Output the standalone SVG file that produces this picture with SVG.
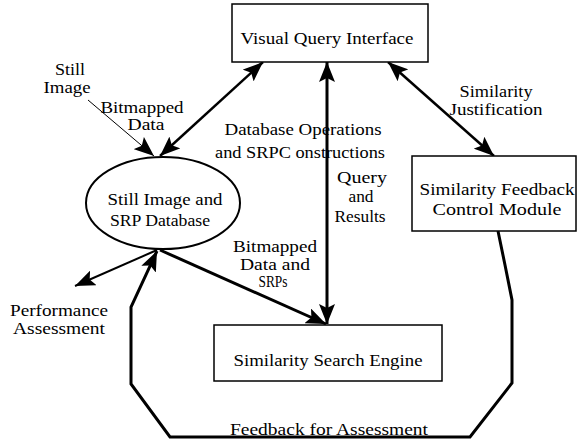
<svg xmlns="http://www.w3.org/2000/svg" width="577" height="443" viewBox="0 0 577 443">
<style>
text{font-family:'Liberation Serif','DejaVu Serif',serif;font-size:16px;fill:#000;text-anchor:middle}
.box{fill:#fff;stroke:#000;stroke-width:1.5}
.c{fill:none;stroke:#000;stroke-linejoin:miter}
</style>
<defs>
<marker id="ah" viewBox="0 0 20 16" refX="20" refY="8" markerWidth="20" markerHeight="16" markerUnits="userSpaceOnUse" orient="auto-start-reverse">
<path d="M0,0 L20,8 L0,16 L4,8 Z" fill="#000"/>
</marker>
</defs>
<rect width="577" height="443" fill="#fff"/>
<g id="connectors">
<line class="c" x1="88" y1="100" x2="154" y2="156" stroke-width="1" marker-end="url(#ah)"/>
<line class="c" x1="263" y1="62" x2="160" y2="156" stroke-width="2.5" marker-start="url(#ah)" marker-end="url(#ah)"/>
<line class="c" x1="327" y1="62" x2="327" y2="324" stroke-width="3" marker-start="url(#ah)" marker-end="url(#ah)"/>
<line class="c" x1="388" y1="62" x2="494" y2="156" stroke-width="2.5" marker-start="url(#ah)" marker-end="url(#ah)"/>
<line class="c" x1="160" y1="250" x2="326" y2="324" stroke-width="3" marker-end="url(#ah)"/>
<line class="c" x1="157" y1="250" x2="75" y2="286" stroke-width="2" marker-end="url(#ah)"/>
<polyline class="c" points="498,231 505,265 512,300 512,383 470,437 170,437 131,384 131,307 157,251" stroke-width="3" marker-end="url(#ah)"/>
</g>
<g id="visual-query-interface">
<rect class="box" x="232" y="4" width="196" height="58"/>
<text x="327" y="44" textLength="173" lengthAdjust="spacingAndGlyphs">Visual Query Interface</text>
</g>
<g id="still-image-db">
<ellipse cx="163" cy="203" rx="77" ry="46" fill="#fff" stroke="#000" stroke-width="2"/>
<text x="165" y="205" textLength="115" lengthAdjust="spacingAndGlyphs">Still Image and</text>
<text x="160" y="226" textLength="100" lengthAdjust="spacingAndGlyphs">SRP Database</text>
</g>
<g id="similarity-feedback">
<rect class="box" x="412" y="156" width="164" height="75"/>
<text x="497" y="195" textLength="155" lengthAdjust="spacingAndGlyphs">Similarity Feedback</text>
<text x="497" y="215" textLength="129" lengthAdjust="spacingAndGlyphs">Control Module</text>
</g>
<g id="similarity-search-engine">
<rect class="box" x="214" y="325" width="228" height="56"/>
<text x="328" y="366" textLength="189" lengthAdjust="spacingAndGlyphs">Similarity Search Engine</text>
</g>
<g id="labels">
<text x="70" y="75" textLength="30" lengthAdjust="spacingAndGlyphs">Still</text>
<text x="67" y="93" textLength="47" lengthAdjust="spacingAndGlyphs">Image</text>
<text x="142" y="113" textLength="83" lengthAdjust="spacingAndGlyphs">Bitmapped</text>
<text x="146" y="130" textLength="37" lengthAdjust="spacingAndGlyphs">Data</text>
<text x="303" y="135" textLength="157" lengthAdjust="spacingAndGlyphs">Database Operations</text>
<text x="300" y="158" textLength="170" lengthAdjust="spacingAndGlyphs">and SRPC onstructions</text>
<text x="496" y="97" textLength="73" lengthAdjust="spacingAndGlyphs">Similarity</text>
<text x="496" y="115" textLength="93" lengthAdjust="spacingAndGlyphs">Justification</text>
<text x="362" y="183" textLength="50" lengthAdjust="spacingAndGlyphs">Query</text>
<text x="361" y="202" textLength="25" lengthAdjust="spacingAndGlyphs">and</text>
<text x="360" y="222" textLength="51" lengthAdjust="spacingAndGlyphs">Results</text>
<text x="275" y="252" textLength="84" lengthAdjust="spacingAndGlyphs">Bitmapped</text>
<text x="275" y="270" textLength="70" lengthAdjust="spacingAndGlyphs">Data and</text>
<text x="273" y="287" textLength="29" lengthAdjust="spacingAndGlyphs">SRPs</text>
<text x="59" y="316" textLength="98" lengthAdjust="spacingAndGlyphs">Performance</text>
<text x="59" y="334" textLength="92" lengthAdjust="spacingAndGlyphs">Assessment</text>
<text x="329" y="435" textLength="198" lengthAdjust="spacingAndGlyphs">Feedback for Assessment</text>
</g>
</svg>
